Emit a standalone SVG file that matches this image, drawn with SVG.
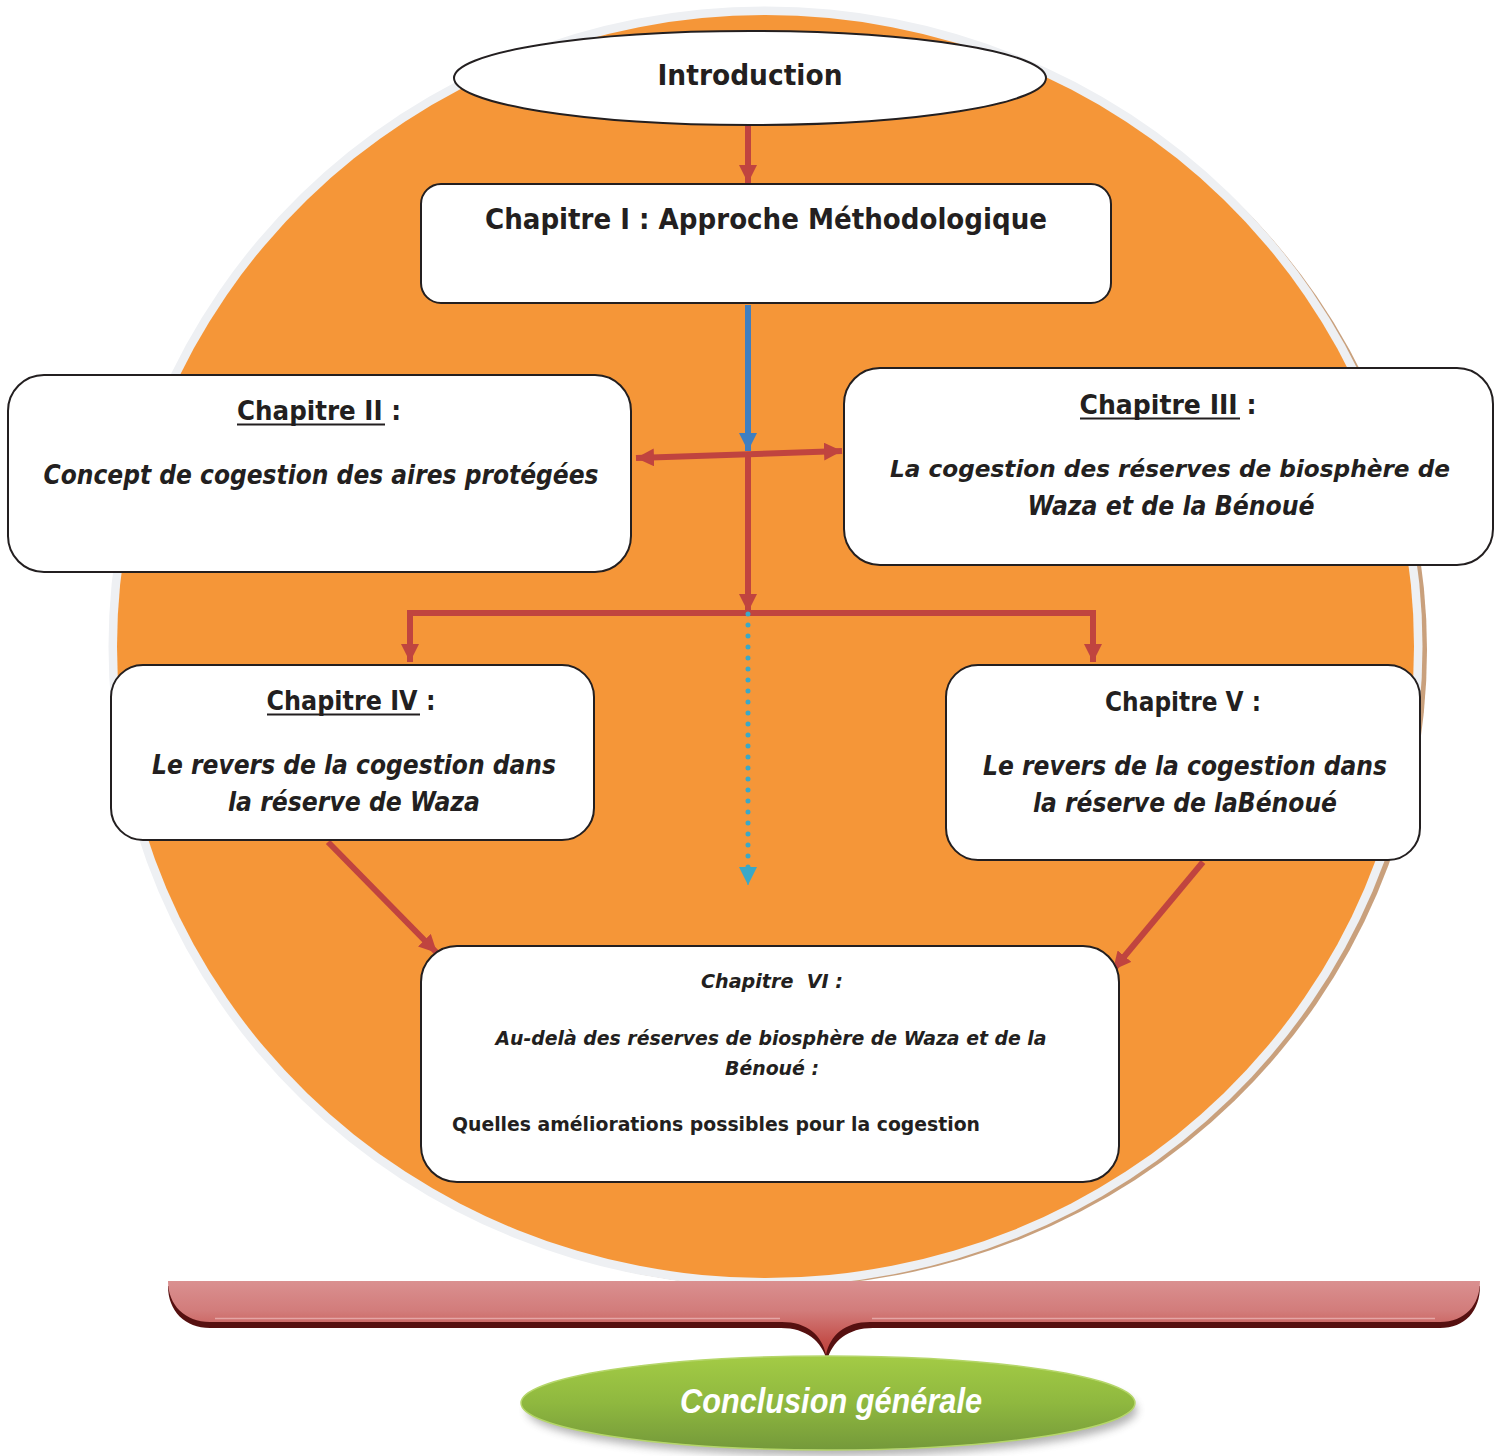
<svg xmlns="http://www.w3.org/2000/svg" width="1504" height="1456" viewBox="0 0 1504 1456">
<defs>
<style>
.box{fill:#fff;stroke:#231f20;stroke-width:2}
.t{font-family:"DejaVu Sans","Liberation Sans",sans-serif;font-weight:bold;fill:#231f20;text-anchor:middle}
.i{font-style:italic}
.red{stroke:#c0443f;stroke-width:6;fill:none}
.ul{stroke:#231f20;stroke-width:2}
</style>
<marker id="ar" markerUnits="userSpaceOnUse" markerWidth="20" markerHeight="18" refX="18" refY="9" orient="auto-start-reverse"><path d="M0,0 L18,9 L0,18 z" fill="#c0443f"/></marker>
<marker id="ab" markerUnits="userSpaceOnUse" markerWidth="20" markerHeight="18" refX="18" refY="9" orient="auto"><path d="M0,0 L18,9 L0,18 z" fill="#3f7fc1"/></marker>
<marker id="ac" markerUnits="userSpaceOnUse" markerWidth="20" markerHeight="18" refX="18" refY="9" orient="auto"><path d="M0,0 L18,9 L0,18 z" fill="#3aa8c8"/></marker>
<linearGradient id="gRed" x1="0" y1="0" x2="0" y2="1"><stop offset="0" stop-color="#da9090"/><stop offset="0.4" stop-color="#d27c7b"/><stop offset="0.8" stop-color="#c4504b"/><stop offset="1" stop-color="#bd3f3b"/></linearGradient>
<linearGradient id="gGreen" x1="0" y1="0" x2="0" y2="1"><stop offset="0" stop-color="#a3cb45"/><stop offset="0.5" stop-color="#8fb83f"/><stop offset="1" stop-color="#74993a"/></linearGradient>
<filter id="sh" x="-10%" y="-20%" width="120%" height="160%"><feGaussianBlur stdDeviation="4"/></filter>
</defs>

<g id="background">
<ellipse cx="771" cy="650" rx="656" ry="637" fill="#c9a07c"/>
<ellipse cx="765.5" cy="646.5" rx="657" ry="640" fill="#eef0f3"/>
<ellipse cx="765.5" cy="646.5" rx="648.5" ry="631.5" fill="#f59638"/>
</g>

<g id="connectors">
<line class="red" x1="748" y1="126" x2="748" y2="183" marker-end="url(#ar)"/>
<line x1="748" y1="305" x2="748" y2="451" stroke="#3f7fc1" stroke-width="6" marker-end="url(#ab)"/>
<line class="red" x1="636" y1="458" x2="842" y2="451" marker-start="url(#ar)" marker-end="url(#ar)"/>
<line class="red" x1="748" y1="455" x2="748" y2="612" marker-end="url(#ar)"/>
<path class="red" d="M751,613 H410 V662" marker-end="url(#ar)"/>
<path class="red" d="M745,613 H1093 V662" marker-end="url(#ar)"/>
<line x1="748" y1="614" x2="748" y2="870" stroke="#3aa8c8" stroke-width="5" stroke-linecap="round" stroke-dasharray="0 11"/>
<line x1="748" y1="868" x2="748" y2="885" stroke="#3aa8c8" stroke-width="1" marker-end="url(#ac)"/>
<line class="red" x1="328" y1="842" x2="437" y2="953" marker-end="url(#ar)"/>
<line class="red" x1="1203" y1="862" x2="1113" y2="970" marker-end="url(#ar)"/>
</g>

<g id="intro">
<ellipse cx="750" cy="78" rx="296" ry="47" fill="#fff" stroke="#231f20" stroke-width="2"/>
<text class="t" x="750" y="85" font-size="28" textLength="185" lengthAdjust="spacingAndGlyphs">Introduction</text>
</g>

<g id="ch1">
<rect class="box" x="421" y="184" width="690" height="119" rx="20"/>
<text class="t" x="766" y="229" font-size="28" textLength="562" lengthAdjust="spacingAndGlyphs">Chapitre I : Approche Méthodologique</text>
</g>

<g id="ch2">
<rect class="box" x="8" y="375" width="623" height="197" rx="36"/>
<text class="t" x="319" y="420" font-size="26" textLength="164" lengthAdjust="spacingAndGlyphs">Chapitre II :</text>
<line class="ul" x1="237" y1="424.5" x2="385" y2="424.5"/>
<text class="t i" x="321" y="484" font-size="26" textLength="555" lengthAdjust="spacingAndGlyphs">Concept de cogestion des aires protégées</text>
</g>

<g id="ch3">
<rect class="box" x="844" y="368" width="649" height="197" rx="36"/>
<text class="t" x="1168" y="414" font-size="26" textLength="177" lengthAdjust="spacingAndGlyphs">Chapitre III :</text>
<line class="ul" x1="1080" y1="418.5" x2="1240" y2="418.5"/>
<text class="t i" x="1170" y="477" font-size="23.5" textLength="560" lengthAdjust="spacingAndGlyphs">La cogestion des réserves de biosphère de</text>
<text class="t i" x="1171" y="515" font-size="26" textLength="287" lengthAdjust="spacingAndGlyphs">Waza et de la Bénoué</text>
</g>

<g id="ch4">
<rect class="box" x="111" y="665" width="483" height="175" rx="32"/>
<text class="t" x="351" y="710" font-size="26" textLength="169" lengthAdjust="spacingAndGlyphs">Chapitre IV :</text>
<line class="ul" x1="267" y1="714.5" x2="420" y2="714.5"/>
<text class="t i" x="354" y="774" font-size="26" textLength="404" lengthAdjust="spacingAndGlyphs">Le revers de la cogestion dans</text>
<text class="t i" x="354" y="811" font-size="26" textLength="252" lengthAdjust="spacingAndGlyphs">la réserve de Waza</text>
</g>

<g id="ch5">
<rect class="box" x="946" y="665" width="474" height="195" rx="32"/>
<text class="t" x="1183" y="711" font-size="26" textLength="156" lengthAdjust="spacingAndGlyphs">Chapitre V :</text>
<text class="t i" x="1185" y="775" font-size="26" textLength="404" lengthAdjust="spacingAndGlyphs">Le revers de la cogestion dans</text>
<text class="t i" x="1185" y="812" font-size="26" textLength="304" lengthAdjust="spacingAndGlyphs">la réserve de laBénoué</text>
</g>

<g id="ch6">
<rect class="box" x="421" y="946" width="698" height="236" rx="36"/>
<text class="t i" x="772" y="988" font-size="20" textLength="142" lengthAdjust="spacingAndGlyphs" xml:space="preserve">Chapitre  VI :</text>
<text class="t i" x="771" y="1045" font-size="20" textLength="551" lengthAdjust="spacingAndGlyphs">Au-delà des réserves de biosphère de Waza et de la</text>
<text class="t i" x="772" y="1075" font-size="20" textLength="94" lengthAdjust="spacingAndGlyphs">Bénoué :</text>
<text class="t" x="452" y="1131" font-size="20" style="text-anchor:start" textLength="528" lengthAdjust="spacingAndGlyphs">Quelles améliorations possibles pour la cogestion</text>
</g>

<g id="bracket">
<path d="M168,1286 L1480,1286 C1480,1311 1465,1328 1440,1328 L873,1328 C848,1328 832,1341 827,1361 C822,1341 806,1328 781,1328 L210,1328 C185,1328 168,1311 168,1286 Z" fill="#561010"/>
<path d="M168,1281 L1480,1281 C1480,1305 1465,1322 1440,1322 L870,1322 C845,1322 830,1335 826,1355 C822,1335 807,1322 782,1322 L210,1322 C185,1322 168,1305 168,1281 Z" fill="url(#gRed)"/>
<path d="M215,1318.5 L780,1318.5 M872,1318.5 L1435,1318.5" stroke="#eab4b4" stroke-width="1.5" fill="none" opacity="0.8"/>
</g>

<g id="conclusion">
<ellipse cx="832" cy="1410" rx="305" ry="46" fill="#555" opacity="0.45" filter="url(#sh)"/>
<ellipse cx="828" cy="1403" rx="307" ry="47" fill="url(#gGreen)" stroke="#b5d66a" stroke-width="1.5"/>
<text x="831" y="1413" font-family="Liberation Sans, sans-serif" font-weight="bold" font-style="italic" font-size="35" fill="#fff" text-anchor="middle" textLength="302" lengthAdjust="spacingAndGlyphs">Conclusion générale</text>
</g>
</svg>
